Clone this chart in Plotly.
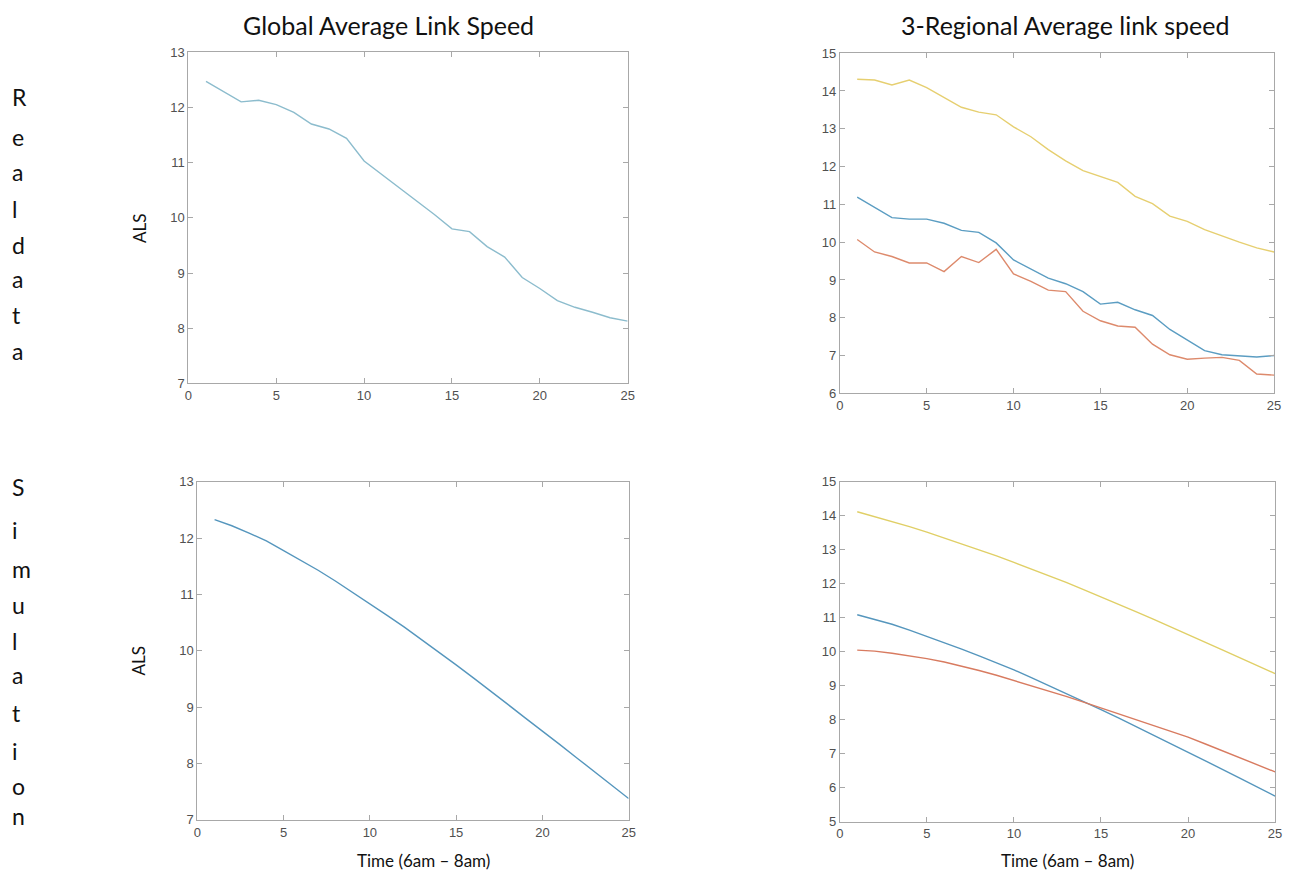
import plotly.graph_objects as go

time = list(range(1, 26))

real_global = [12.47, 12.29, 12.10, 12.13, 12.05, 11.91, 11.70, 11.61, 11.44, 11.03,
               10.79, 10.54, 10.31, 10.06, 9.80, 9.75, 9.48, 9.29, 8.92, 8.72,
               8.50, 8.38, 8.29, 8.19, 8.13]

real_region_blue = [11.19, 10.93, 10.65, 10.61, 10.61, 10.50, 10.31, 10.26, 9.98, 9.53,
                    9.29, 9.05, 8.90, 8.69, 8.36, 8.41, 8.21, 8.06, 7.69, 7.40,
                    7.13, 7.02, 7.00, 6.96, 7.00]
real_region_orange = [10.07, 9.74, 9.62, 9.45, 9.45, 9.22, 9.62, 9.46, 9.81, 9.16,
                      8.96, 8.73, 8.69, 8.17, 7.92, 7.78, 7.75, 7.30, 7.02, 6.90,
                      6.93, 6.95, 6.87, 6.51, 6.48]
real_region_yellow = [14.31, 14.29, 14.16, 14.29, 14.09, 13.83, 13.57, 13.44, 13.37, 13.05,
                      12.79, 12.45, 12.15, 11.89, 11.73, 11.58, 11.21, 11.02, 10.69, 10.55,
                      10.33, 10.16, 10.00, 9.85, 9.74]

sim_global = [12.33, 12.22, 12.09, 11.95, 11.78, 11.61, 11.43, 11.24, 11.04, 10.84,
              10.63, 10.42, 10.20, 9.98, 9.75, 9.52, 9.29, 9.05, 8.81, 8.58,
              8.34, 8.10, 7.86, 7.62, 7.38]

sim_region_blue = [11.09, 10.96, 10.81, 10.64, 10.46, 10.27, 10.08, 9.88, 9.68, 9.47,
                   9.24, 9.01, 8.78, 8.54, 8.30, 8.06, 7.81, 7.56, 7.31, 7.06,
                   6.80, 6.54, 6.28, 6.02, 5.76]
sim_region_orange = [10.05, 10.02, 9.96, 9.89, 9.80, 9.70, 9.58, 9.45, 9.31, 9.16,
                     9.01, 8.85, 8.69, 8.52, 8.35, 8.18, 8.01, 7.84, 7.67, 7.49,
                     7.29, 7.09, 6.89, 6.68, 6.47]
sim_region_yellow = [14.12, 13.98, 13.83, 13.68, 13.52, 13.35, 13.18, 13.00, 12.82, 12.63,
                     12.44, 12.24, 12.04, 11.83, 11.62, 11.40, 11.18, 10.96, 10.74, 10.51,
                     10.28, 10.05, 9.82, 9.59, 9.36]

x_ticks = [0, 5, 10, 15, 20, 25]

W, H = 1292, 881
def px(x): return x / W
def py(y): return 1 - y / H

fig = go.Figure()

def add(y, color, xa, ya):
    fig.add_trace(go.Scatter(x=time, y=y, mode="lines", line=dict(color=color, width=1.4),
                             xaxis=xa, yaxis=ya, showlegend=False, hoverinfo="skip"))

BLUE_R, ORANGE_R, YELLOW_R = "#5b9dc2", "#dd8a6c", "#e6cf70"
BLUE_S, ORANGE_S, YELLOW_S = "#5596bd", "#d87b60", "#e0cf66"

add(real_global, "#8cbccd", "x", "y")
add(real_region_yellow, YELLOW_R, "x2", "y2")
add(real_region_blue, BLUE_R, "x2", "y2")
add(real_region_orange, ORANGE_R, "x2", "y2")
add(sim_global, BLUE_S, "x3", "y3")
add(sim_region_yellow, YELLOW_S, "x4", "y4")
add(sim_region_blue, BLUE_S, "x4", "y4")
add(sim_region_orange, ORANGE_S, "x4", "y4")

axis_style = dict(showline=True, linecolor="#a8a8a8", linewidth=1, mirror="ticks",
                  ticks="inside", ticklen=5, tickcolor="#a8a8a8", showgrid=False,
                  zeroline=False, tickfont=dict(family="Liberation Sans, Arial", size=13, color="#505050"))

domains = {
    1: ([px(186), px(629)], [py(383), py(46)], [7, 13]),
    2: ([px(843), px(1281)], [py(393), py(47)], [6, 15]),
    3: ([px(195), px(630)], [py(827), py(483)], [7, 13]),
    4: ([px(843), px(1282)], [py(829), py(483)], [5, 15]),
}
layout = {}
for i, (dx, dy, yr) in domains.items():
    s = "" if i == 1 else str(i)
    layout["xaxis" + s] = dict(domain=dx, range=[0, 25], tickvals=x_ticks, anchor="y" + s,
                               ticklabeloverflow="allow", **axis_style)
    layout["yaxis" + s] = dict(domain=dy, range=yr, dtick=1, anchor="x" + s, **axis_style)

fig.update_layout(**layout)

ann = []
title_font = dict(family="Lato, Open Sans", size=25, color="#111111")
ann.append(dict(text="Global Average Link Speed", x=px(388), y=py(18), font=title_font))
ann.append(dict(text="3-Regional Average link speed", x=px(1070), y=py(18), font=title_font))

label_font = dict(family="Lato, Open Sans", size=17, color="#111111")
ann.append(dict(text="ALS", x=px(136), y=py(225), textangle=-90, font=label_font))
ann.append(dict(text="ALS", x=px(136), y=py(665), textangle=-90, font=label_font))
ann.append(dict(text="Time (6am \u2013 8am)", x=px(423), y=py(868), font=label_font))
ann.append(dict(text="Time (6am \u2013 8am)", x=px(1073), y=py(868), font=label_font))

letter_font = dict(family="Lato, Open Sans", size=23, color="#111111")
real_letters = list("Realdata")
real_y = [92, 132, 168, 205, 242, 277, 313, 350]
for ch, yy in zip(real_letters, real_y):
    ann.append(dict(text=ch, x=px(6), y=py(yy), xanchor="left", font=letter_font))
sim_letters = list("Simulation")
sim_y = [488, 532, 572, 608, 645, 680, 718, 757, 792, 823]
for ch, yy in zip(sim_letters, sim_y):
    ann.append(dict(text=ch, x=px(6), y=py(yy), xanchor="left", font=letter_font))

for a in ann:
    a.setdefault("xanchor", "center")
    a.update(xref="paper", yref="paper", yanchor="middle", showarrow=False)

fig.update_layout(annotations=ann, width=W, height=H, margin=dict(l=0, r=0, t=0, b=0),
                  paper_bgcolor="white", plot_bgcolor="white")

fig.write_html("out.html", config={"displayModeBar": False},
               post_script="document.body.style.margin='0';document.body.style.overflow='hidden';")
